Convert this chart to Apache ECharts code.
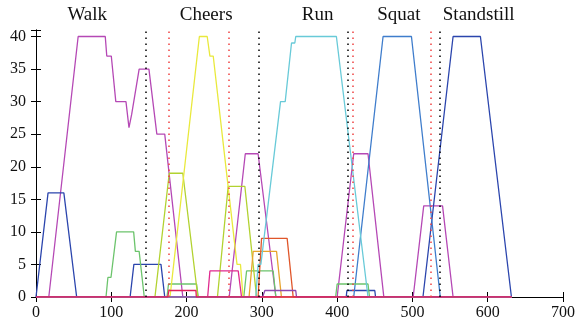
<!DOCTYPE html>
<html lang="en">
<head>
<meta charset="UTF-8">
<title>Activity outputs</title>
<script src="https://cdn.jsdelivr.net/npm/echarts@6/dist/echarts.min.js"></script>
<style>
  html, body { margin: 0; padding: 0; background: #fff; }
</style>
</head>
<body>
<div id="main" style="width:579px;height:328px;"></div>
<script>
// activity labels above the plot and their x centres (data units)
var activityNames = ['Walk', 'Cheers', 'Run', 'Squat', 'Standstill'];
var activityCenters = [68, 226, 374, 482, 588];

// segment boundaries (dotted verticals)
var blackMarks = [145.6, 296.5, 413.8, 535.9];
var redMarks = [176.6, 255.8, 420.4, 524.4];

var xTicks = [0, 100, 200, 300, 400, 500, 600, 700];
var yTicks = [0, 5, 10, 15, 20, 25, 30, 35, 40];

// one curve per colour, [x, y]
var magenta = [[0,0],[17,0],[56,40],[92,40],[94,37],[100,37],[106,30],[119.5,30],[123.5,26],[127,28],[129.5,28],[137,35],[150,35],[160.5,25],[171,25],[195,0],
  [256.6,0],[278,22],[295,22],[318.6,0],[400,0],[422,22],[441,22],[462,0],[501,0],[515,14],[540,14],[554,0],[632,0]];
var darkBlue = [[0,0],[16,16],[37,16],[54,0],[125,0],[130,5],[166,5],[171,0],[412,0],[413,1],[450,1],[451,0],[514,0],[554,40],[590.3,40],[631.5,0],[632,0]];
var lightBlue = [[0,0],[422,0],[461,40],[498.7,40],[537,0],[632,0]];
var green = [[0,0],[93,0],[95.5,3],[99.6,3],[107,10],[129.7,10],[132,7],[137,7],[143.8,0],[174,0],[176,2],[213.3,2],[215.5,0],
  [276,0],[279.7,4],[315,4],[318.6,0],[398,0],[400,2],[441,2],[443,0],[632,0]];
var yellowGreen = [[0,0],[158,0],[177,19],[195,19],[215,0],[241,0],[255.3,17],[277.4,17],[293,0],[632,0]];
var yellow = [[0,0],[178,0],[217,40],[227.4,40],[231,37],[235.4,37],[267,5],[271.6,5],[275,0],[632,0]];
var deepPink = [[0,0],[228,0],[231,4],[268.6,4],[273,0],[632,0]];
var orange = [[0,0],[283,0],[288.5,7],[319.5,7],[326,0],[632,0]];
var redOrange = [[0,0],[295,0],[299.6,9],[333.6,9],[341.6,0],[632,0]];
var cyan = [[0,0],[292,0],[295,5],[298.7,5],[324.8,30],[331,30],[339.4,39],[343.8,39],[345,40],[399,40],[441,0],[632,0]];
var purple = [[0,0],[301,0],[304,1],[345,1],[346,0],[632,0]];
var crimson = [[0,0],[175,0],[176.6,1],[212.4,1],[213,0],[632,0]];

var curves = [
  [magenta, '#b548b5'],
  [darkBlue, '#2b45ad'],
  [lightBlue, '#3f7dcc'],
  [green, '#6cc46c'],
  [yellowGreen, '#b2d230'],
  [yellow, '#e9e93c'],
  [deepPink, '#e02a8e'],
  [orange, '#e8a42c'],
  [redOrange, '#e0562a'],
  [cyan, '#68cad8'],
  [purple, '#8e48b0'],
  [crimson, '#e0215c']
];

var font = 'Liberation Serif';
var gridLeft = 36, gridRight = 16;
var myChart = echarts.init(document.getElementById('main'));
var pxPerUnit = (579 - gridLeft - gridRight) / 700;

var series = curves.map(function (c) {
  return {
    type: 'line',
    data: c[0],
    symbol: 'none',
    animation: false,
    lineStyle: { color: c[1], width: 1.3 }
  };
});

// dotted verticals carried by an empty series
series.push({
  type: 'line',
  data: [],
  markLine: {
    symbol: 'none',
    silent: true,
    animation: false,
    label: { show: false },
    data: blackMarks.map(function (v) {
      return { xAxis: v, lineStyle: { color: '#000', type: [1.5, 4.5], width: 1.5 } };
    }).concat(redMarks.map(function (v) {
      return { xAxis: v, lineStyle: { color: '#f04040', type: [1.5, 4.5], width: 1.5 } };
    }))
  }
});

var option = {
  animation: false,
  grid: { left: gridLeft, right: gridRight, top: 30, bottom: 31 },
  graphic: activityNames.map(function (name, i) {
    return {
      type: 'text',
      x: gridLeft + activityCenters[i] * pxPerUnit,
      y: 15,
      style: {
        text: name, font: '19px "' + font + '"', fill: '#111',
        textAlign: 'center', textVerticalAlign: 'middle'
      }
    };
  }),
  xAxis: [{
    type: 'value', min: 0, max: 700, interval: 100,
    axisLine: { lineStyle: { color: '#000', width: 1 } },
    axisTick: { inside: true, length: 5, lineStyle: { color: '#000' } },
    axisLabel: { color: '#111', fontFamily: font, fontSize: 16, margin: 8 },
    splitLine: { show: false }
  }, {
    type: 'value', min: 0, max: 700, interval: 100, position: 'top',
    axisLine: { show: true, lineStyle: { color: '#000', width: 1 } },
    axisTick: { inside: true, length: 5, lineStyle: { color: '#000' } },
    axisLabel: { show: false },
    splitLine: { show: false }
  }],
  yAxis: [{
    type: 'value', min: 0, max: 41, interval: 5,
    axisLine: { show: true, lineStyle: { color: '#000', width: 1 } },
    axisTick: { show: true, inside: true, length: 5, lineStyle: { color: '#000' } },
    axisLabel: {
      color: '#111', fontFamily: font, fontSize: 16, margin: 10,
      formatter: function (v) { return yTicks.indexOf(v) >= 0 ? String(v) : ''; }
    },
    splitLine: { show: false }
  }, {
    type: 'value', min: 0, max: 41, interval: 5, position: 'right',
    axisLine: { show: true, lineStyle: { color: '#000', width: 1 } },
    axisTick: { show: true, inside: true, length: 5, lineStyle: { color: '#000' } },
    axisLabel: { show: false },
    splitLine: { show: false }
  }],
  series: series
};

myChart.setOption(option);
</script>
</body>
</html>
